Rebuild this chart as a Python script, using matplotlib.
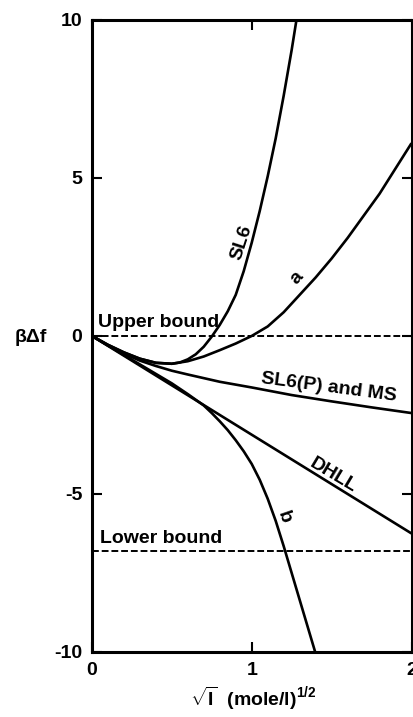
"""
Free energy vs sqrt(ionic strength): SL6, a, b, SL6(P)/MS and DHLL
"""

import matplotlib
matplotlib.use("Agg")
import matplotlib.pyplot as plt

plt.rcParams["font.family"] = ["Liberation Sans", "DejaVu Sans"]
plt.rcParams["font.weight"] = "bold"
plt.rcParams["mathtext.fontset"] = "custom"
plt.rcParams["mathtext.rm"] = "Liberation Sans:bold"
plt.rcParams["mathtext.bf"] = "Liberation Sans:bold"

# -----------------------------------------------------------------------------
# data (x = sqrt(I))
# -----------------------------------------------------------------------------
dhll_x = [0.0, 2.0]
dhll_y = [0.0, -6.25]

slp_x = [0.0, 0.1, 0.2, 0.3, 0.4, 0.5, 0.6, 0.8, 1.0, 1.25, 1.5, 1.75, 2.0]
slp_y = [0.0, -0.3, -0.56, -0.78, -0.95, -1.1, -1.22, -1.45, -1.63, -1.87, -2.07, -2.26, -2.44]

sl6_x = [0.0, 0.1, 0.2, 0.3, 0.4, 0.5, 0.55, 0.6, 0.65, 0.7, 0.75, 0.8, 0.85, 0.9, 0.95,
         1.0, 1.05, 1.1, 1.15, 1.2, 1.25, 1.28]
sl6_y = [0.0, -0.28, -0.52, -0.72, -0.85, -0.88, -0.84, -0.74, -0.58, -0.34, -0.02, 0.35, 0.78, 1.3, 2.05,
         2.95, 3.95, 5.05, 6.25, 7.6, 9.05, 10.0]

a_x = [0.0, 0.1, 0.2, 0.3, 0.4, 0.5, 0.6, 0.7, 0.8, 0.9, 1.0, 1.1, 1.2, 1.3,
       1.4, 1.5, 1.6, 1.7, 1.8, 1.9, 2.0]
a_y = [0.0, -0.28, -0.52, -0.72, -0.85, -0.88, -0.8, -0.65, -0.45, -0.24, 0.0, 0.3, 0.75, 1.3,
       1.85, 2.45, 3.1, 3.8, 4.5, 5.3, 6.1]

b_x = [0.0, 0.1, 0.2, 0.3, 0.4, 0.5, 0.6, 0.7, 0.75, 0.8, 0.85, 0.9, 0.95, 1.0, 1.05,
       1.1, 1.15, 1.2, 1.25, 1.3, 1.35, 1.4]
b_y = [0.0, -0.3, -0.6, -0.9, -1.2, -1.5, -1.84, -2.2, -2.44, -2.7, -2.98, -3.3, -3.65, -4.05, -4.55,
       -5.15, -5.85, -6.65, -7.5, -8.35, -9.2, -10.05]

UPPER = 0.0
LOWER = -6.8

# -----------------------------------------------------------------------------
# figure
# -----------------------------------------------------------------------------
fig = plt.figure(figsize=(4.14, 7.17), dpi=100)
ax = fig.add_axes([0.222, 0.0907, 0.772, 0.8815])

lw = 1.9
for xs, ys in [(dhll_x, dhll_y), (slp_x, slp_y), (sl6_x, sl6_y), (a_x, a_y), (b_x, b_y)]:
    ax.plot(xs, ys, color="black", lw=lw, solid_capstyle="butt", solid_joinstyle="round")

ax.axhline(UPPER, color="black", lw=1.4, ls=(0, (3.5, 1.5)))
ax.axhline(LOWER, color="black", lw=1.4, ls=(0, (3.5, 1.5)))

ax.set_xlim(0, 2)
ax.set_ylim(-10, 10)
ax.set_xticks([0, 1, 2])
ax.set_yticks([-10, -5, 0, 5, 10])
ax.set_xticklabels(["0", "1", "2"])
ax.set_yticklabels(["-10", "-5", "0", "5", "10"])
ax.tick_params(direction="in", length=7, width=1.5, labelsize=14,
               top=True, right=True, pad=7)
for sp in ax.spines.values():
    sp.set_linewidth(2.2)

# curve labels
fs = 14
ax.text(0.04, 0.41, "Upper bound", fontsize=fs, fontweight="bold", ha="left", va="center")
ax.text(0.05, -6.42, "Lower bound", fontsize=fs, fontweight="bold", ha="left", va="center")
ax.text(1.48, -1.62, "SL6(P) and MS", fontsize=fs, fontweight="bold",
        ha="center", va="center", rotation=-7.5)
ax.text(1.51, -4.4, "DHLL", fontsize=fs, fontweight="bold",
        ha="center", va="center", rotation=-31)
ax.text(0.935, 2.94, "SL6", fontsize=fs, fontweight="bold",
        ha="center", va="center", rotation=72)
ax.text(1.28, 1.84, "a", fontsize=fs, fontweight="bold",
        ha="center", va="center", rotation=47)
ax.text(1.20, -5.73, "b", fontsize=fs, fontweight="bold",
        ha="center", va="center", rotation=-71)

# axis labels
fig.text(31 / 414, 1 - 338 / 717, "βΔf", fontsize=14, fontweight="bold",
         ha="center", va="center")
fig.text(253 / 414, 1 - 698 / 717, r"$\sqrt{\mathbf{I}}$  (mole/l)$^{1/2}$",
         fontsize=14, fontweight="bold", ha="center", va="center")

fig.savefig("out.png", dpi=100)
